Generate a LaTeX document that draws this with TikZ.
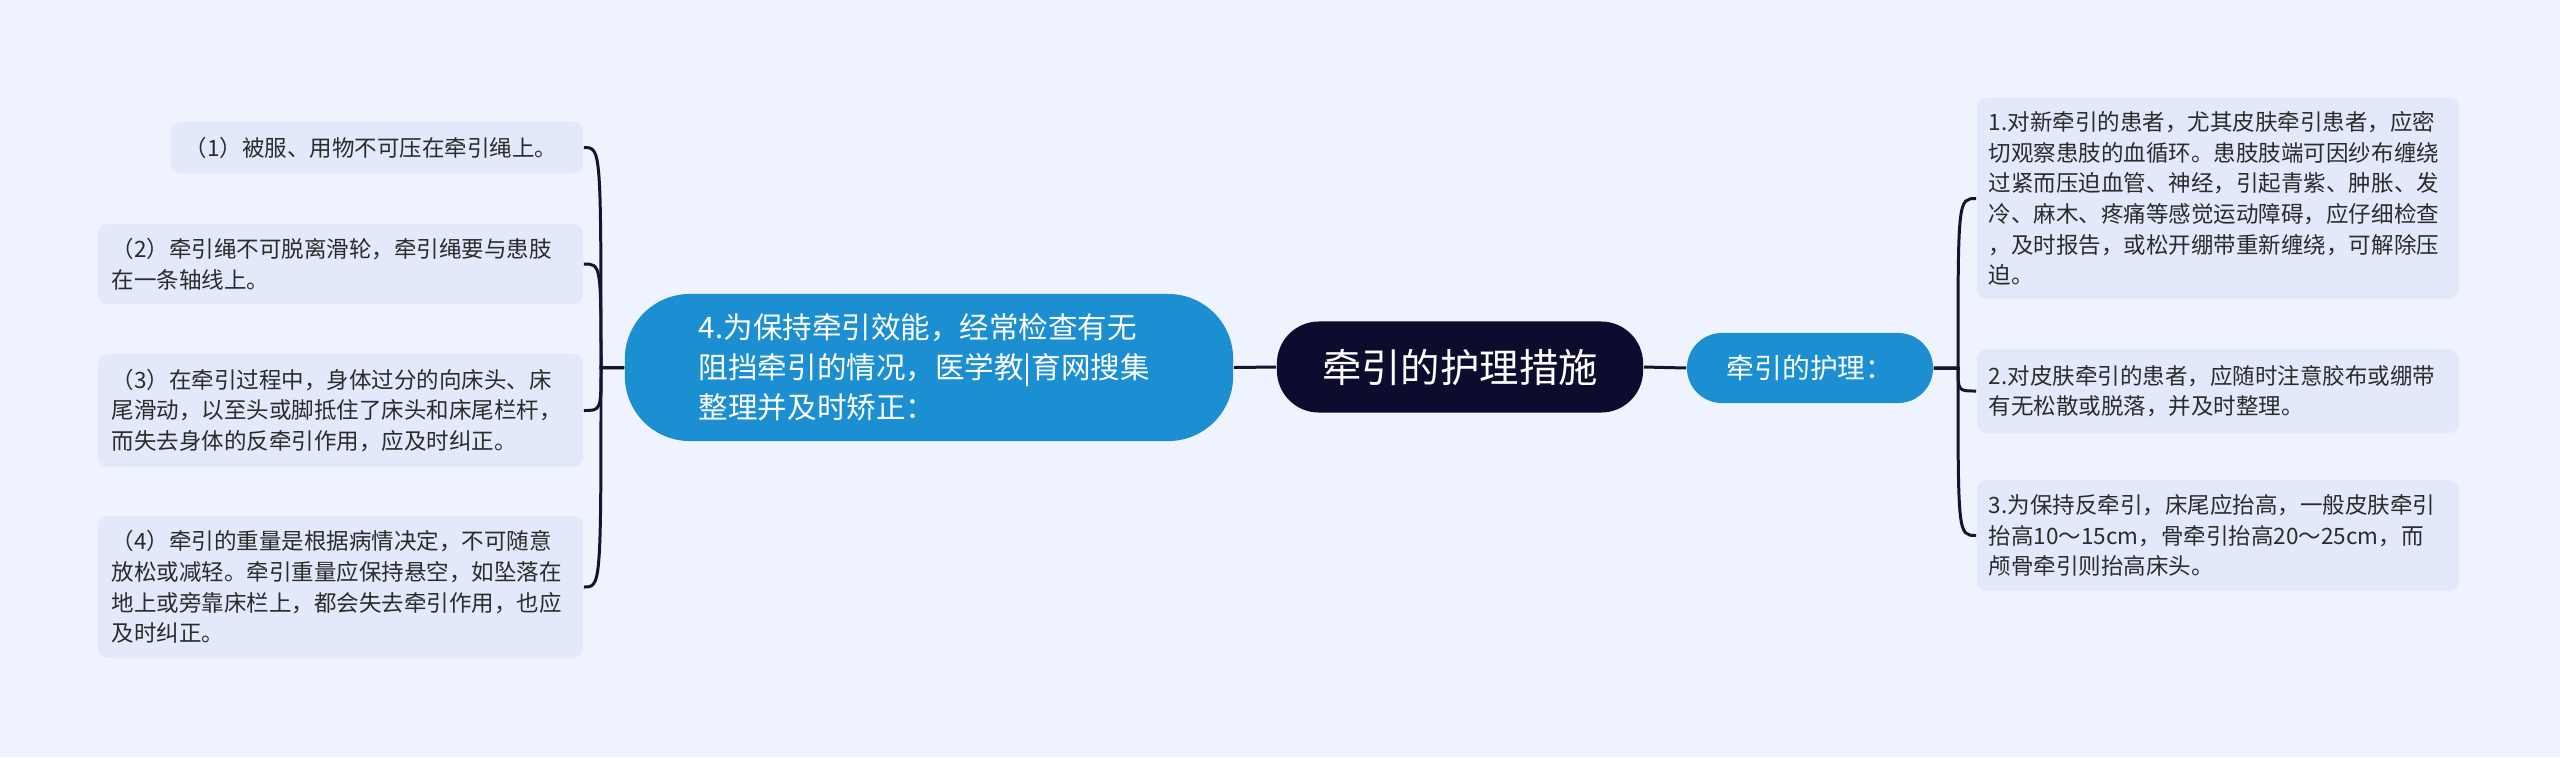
\documentclass[tikz,border=0pt]{standalone}
\usepackage{fontspec}
\newfontfamily\cjk{Noto Sans CJK SC}
\definecolor{bgcol}{HTML}{EEF3FD}
\definecolor{leafcol}{HTML}{E1E9FA}
\definecolor{bluecol}{HTML}{1B8FD1}
\definecolor{rootcol}{HTML}{0D0C2E}
\definecolor{linecol}{HTML}{15132F}
\definecolor{txtcol}{HTML}{2B2B2B}
\tikzset{
  leaf/.style={fill=leafcol, rounded corners=0.1cm, align=left, inner ysep=0pt, text=txtcol, font=\cjk\fontsize{6.4pt}{8.7pt}\selectfont},
  topic/.style={fill=bluecol, align=left, inner ysep=0pt, text=white},
  link/.style={draw=linecol, line width=0.85pt}
}
\begin{document}
\begin{tikzpicture}[x=0.01cm, y=-0.01cm]
\useasboundingbox [fill=bgcol] (0,0) rectangle (2560,757);
\node (root) at (1460,367) [fill=rootcol, rounded corners=0.42cm, minimum width=3.66cm, minimum height=0.91cm, inner ysep=0pt, text=white, style={font=\cjk\fontsize{11.2pt}{13pt}\selectfont}] {牵引的护理措施};
\node (lmain) at (929,367.5) [topic, rounded corners=0.65cm, minimum height=1.47cm, inner xsep=0.74cm, text width=4.60cm, style={font=\cjk\fontsize{8.4pt}{11.4pt}\selectfont}] {4.为保持牵引效能，经常检查有无\\ 阻挡牵引的情况，医学教|育网搜集\\ 整理并及时矫正：};
\node (rmid) at (1810,368) [topic, rounded corners=0.35cm, minimum width=2.46cm, minimum height=0.70cm, align=center, style={font=\cjk\fontsize{7.9pt}{9pt}\selectfont}] {牵引的护理：};
\node (r1) at (2218,198.5) [leaf, minimum height=2.01cm, inner xsep=0.12cm, text width=4.58cm] {1.对新牵引的患者，尤其皮肤牵引患者，应密\\ 切观察患肢的血循环。患肢肢端可因纱布缠绕\\ 过紧而压迫血管、神经，引起青紫、肿胀、发\\ 冷、麻木、疼痛等感觉运动障碍，应仔细检查\\ ，及时报告，或松开绷带重新缠绕，可解除压\\ 迫。};
\node (r2) at (2218,391) [leaf, minimum height=0.84cm, inner xsep=0.12cm, text width=4.58cm] {2.对皮肤牵引的患者，应随时注意胶布或绷带\\ 有无松散或脱落，并及时整理。};
\node (r3) at (2218,535.5) [leaf, minimum height=1.11cm, inner xsep=0.12cm, text width=4.58cm] {3.为保持反牵引，床尾应抬高，一般皮肤牵引\\ 抬高10～15cm，骨牵引抬高20～25cm，而\\ 颅骨牵引则抬高床头。};
\node (l1) at (377,147.5) [leaf, minimum height=0.51cm, inner xsep=0.14cm, text width=3.84cm] {（1）被服、用物不可压在牵引绳上。};
\node (l2) at (340.5,264) [leaf, minimum height=0.80cm, inner xsep=0.14cm, text width=4.57cm] {（2）牵引绳不可脱离滑轮，牵引绳要与患肢\\ 在一条轴线上。};
\node (l3) at (340.5,410.5) [leaf, minimum height=1.13cm, inner xsep=0.14cm, text width=4.57cm] {（3）在牵引过程中，身体过分的向床头、床\\ 尾滑动，以至头或脚抵住了床头和床尾栏杆，\\ 而失去身体的反牵引作用，应及时纠正。};
\node (l4) at (340.5,587) [leaf, minimum height=1.42cm, inner xsep=0.14cm, text width=4.57cm] {（4）牵引的重量是根据病情决定，不可随意\\ 放松或减轻。牵引重量应保持悬空，如坠落在\\ 地上或旁靠床栏上，都会失去牵引作用，也应\\ 及时纠正。};
\coordinate (lbr) at (601,367.5);
\coordinate (rbr) at (1958,368);
\draw [link] (root.west) -- (lmain.east);
\draw [link] (root.east) -- (rmid.west);
\draw [link] (lmain.west) -- (lbr) .. controls (lbr |- l1.east) and (lbr |- l1.east) .. (l1.east);
\draw [link] (lmain.west) -- (lbr) .. controls (lbr |- l2.east) and (lbr |- l2.east) .. (l2.east);
\draw [link] (lmain.west) -- (lbr) .. controls (lbr |- l3.east) and (lbr |- l3.east) .. (l3.east);
\draw [link] (lmain.west) -- (lbr) .. controls (lbr |- l4.east) and (lbr |- l4.east) .. (l4.east);
\draw [link] (rmid.east) -- (rbr) .. controls (rbr |- r1.west) and (rbr |- r1.west) .. (r1.west);
\draw [link] (rmid.east) -- (rbr) .. controls (rbr |- r2.west) and (rbr |- r2.west) .. (r2.west);
\draw [link] (rmid.east) -- (rbr) .. controls (rbr |- r3.west) and (rbr |- r3.west) .. (r3.west);
\end{tikzpicture}
\end{document}
